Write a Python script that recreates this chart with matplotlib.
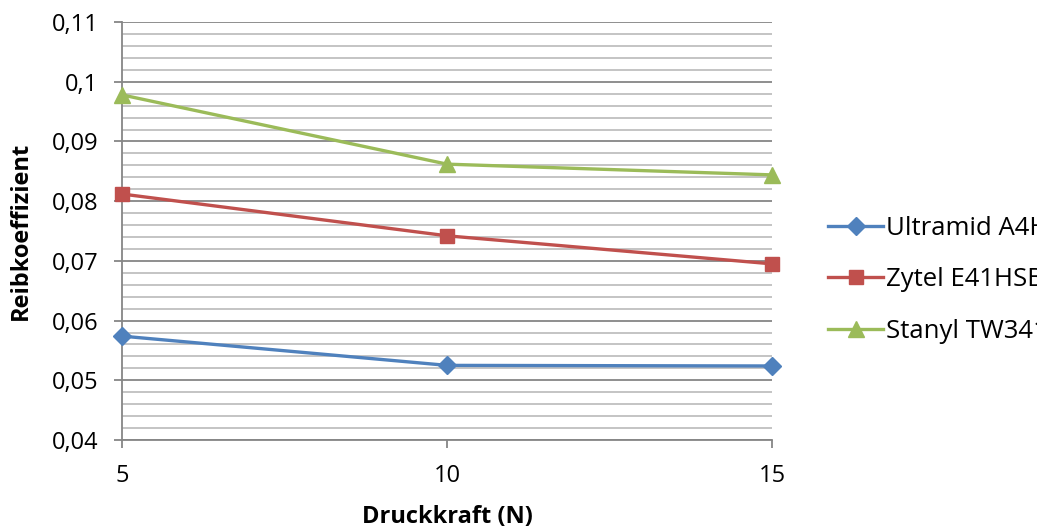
import matplotlib.pyplot as plt
from matplotlib.ticker import MultipleLocator, FuncFormatter

plt.rcParams['font.family'] = ['Open Sans', 'DejaVu Sans']

# Druckkraft in N
kraft = [5, 10, 15]

# Reibkoeffizient je Werkstoff
ultramid = [0.0574, 0.0525, 0.0524]
zytel = [0.0812, 0.0742, 0.0695]
stanyl = [0.0978, 0.0862, 0.0844]

namen = ['Ultramid A4H', 'Zytel E41HSB', 'Stanyl TW341']
farben = ['#4F81BD', '#C0504D', '#9BBB59']
marker = ['D', 's', '^']
msize = [9, 10, 11]

fig = plt.figure(figsize=(10.37, 5.32), dpi=100)
ax = fig.add_axes([0.1176, 0.1729, 0.6269, 0.7857])

for werte, name, farbe, m, ms in zip([ultramid, zytel, stanyl], namen, farben, marker, msize):
    ax.plot(kraft, werte, color=farbe, lw=2.4, marker=m, markersize=ms,
            label=name, zorder=3, clip_on=False)

ax.set_xlim(5, 15)
ax.set_ylim(0.04, 0.11)
ax.xaxis.set_major_locator(MultipleLocator(5))
ax.yaxis.set_major_locator(MultipleLocator(0.01))
ax.yaxis.set_minor_locator(MultipleLocator(0.002))
ax.yaxis.set_major_formatter(FuncFormatter(lambda v, p: ('%g' % round(v, 3)).replace('.', ',')))

# Gitternetz
ax.grid(axis='y', which='major', color='#868686', lw=1.3, zorder=1)
ax.grid(axis='y', which='minor', color='#BFBFBF', lw=1.3, zorder=1)

for s in ['top', 'right']:
    ax.spines[s].set_visible(False)
ax.spines['left'].set_color('#868686')
ax.spines['left'].set_linewidth(1.3)
ax.spines['bottom'].set_color('#868686')
ax.spines['bottom'].set_linewidth(1.3)

fs = 17
ax.tick_params(axis='y', which='major', length=6, color='#868686', width=1.3,
               labelsize=fs, pad=11)
ax.tick_params(axis='y', which='minor', length=0)
ax.tick_params(axis='x', length=6, color='#868686', width=1.3, labelsize=fs, pad=11)

ax.set_ylabel('Reibkoeffizient', fontsize=fs, fontweight='bold')
ax.set_xlabel('Druckkraft (N)', fontsize=fs, fontweight='bold')
ax.yaxis.set_label_coords(-0.137, 0.5)
ax.xaxis.set_label_coords(0.5, -0.155)

# Legende rechts neben dem Diagramm, läuft über den Bildrand hinaus
ax.legend(loc='center left', bbox_to_anchor=(0.7985, 0.4737), bbox_transform=fig.transFigure,
          frameon=False, fontsize=18.5, handlelength=2.15, handletextpad=0.12,
          labelspacing=1.05, borderaxespad=0, borderpad=0)

fig.savefig('out.png', dpi=100)
